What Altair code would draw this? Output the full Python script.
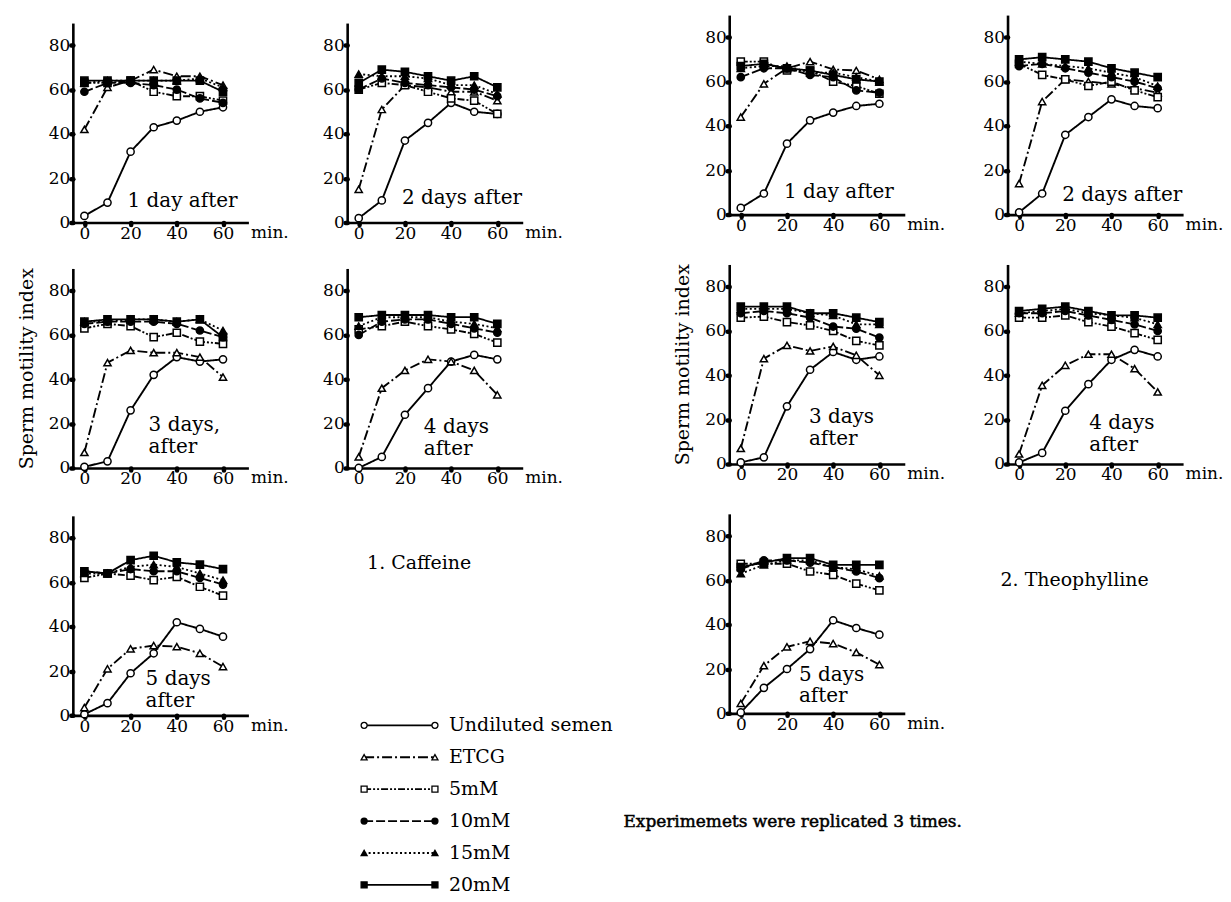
import altair as alt
import pandas as pd

FONT = "DejaVu Serif"
TIMES = [0, 10, 20, 30, 40, 50, 60]
SERIES = ["Undiluted semen", "ETCG", "5mM", "10mM", "15mM", "20mM"]
LEGEND_LABELS = ["Undiluted  semen", "ETCG", "\u00a0\u00a05mM", "10mM", "15mM", "20mM"]
Y_TICKS = [0, 20, 40, 60, 80]

# ---- 1. Caffeine ----
caf_1day = {
    "Undiluted semen": [3, 9, 32, 43, 46, 50, 52],
    "ETCG": [42, 61, 64, 69, 66, 66, 62],
    "5mM": [63, 63, 64, 59, 57, 57, 55],
    "10mM": [59, 63, 63, 62, 60, 56, 54],
    "15mM": [63, 64, 64, 64, 64, 65, 61],
    "20mM": [64, 64, 64, 64, 64, 64, 59],
}
caf_2day = {
    "Undiluted semen": [2, 10, 37, 45, 54, 50, 49],
    "ETCG": [15, 51, 62, 61, 59, 59, 55],
    "5mM": [60, 63, 62, 59, 56, 55, 49],
    "10mM": [60, 65, 63, 62, 61, 60, 57],
    "15mM": [67, 66, 66, 65, 62, 62, 58],
    "20mM": [63, 69, 68, 66, 64, 66, 61],
}
caf_3day = {
    "Undiluted semen": [0.5, 3, 26, 42, 50, 48, 49],
    "ETCG": [7, 47.5, 53, 52, 52, 50, 41],
    "5mM": [63, 65, 64, 59, 61, 57, 56],
    "10mM": [65, 66, 66, 66, 65, 62, 59],
    "15mM": [66, 66, 67, 67, 66, 67, 62],
    "20mM": [66, 67, 67, 67, 66, 67, 59],
}
caf_4day = {
    "Undiluted semen": [0, 5, 24, 36, 48, 51, 49],
    "ETCG": [5, 36, 44, 49, 48, 44, 33],
    "5mM": [62.5, 64, 66, 64, 62.5, 60.5, 56.5],
    "10mM": [60, 66, 67, 67, 65, 63, 61],
    "15mM": [64, 68, 68, 68, 66, 65, 63],
    "20mM": [68, 69, 69, 69, 68, 68, 65],
}
caf_5day = {
    "Undiluted semen": [0.5, 5.5, 19, 28, 42, 39, 35.5],
    "ETCG": [3.5, 21, 30, 31.5, 31, 28, 22],
    "5mM": [62, 64, 63, 61, 62.5, 58, 54],
    "10mM": [65, 64, 66, 65, 65, 62, 59],
    "15mM": [64, 64, 67, 68, 67, 64, 61],
    "20mM": [65, 64, 70, 72, 69, 68, 66],
}

# ---- 2. Theophylline ----
theo_1day = {
    "Undiluted semen": [3, 9.5, 32, 42.5, 46, 49, 50],
    "ETCG": [44, 59, 66, 69, 65.5, 65, 61],
    "5mM": [69, 69, 65, 65, 60, 58, 54.5],
    "10mM": [62, 66, 66, 63, 62, 56, 55],
    "15mM": [66, 67, 67, 64, 64, 62, 60],
    "20mM": [67, 68, 66, 65, 63, 61, 60],
}
theo_2day = {
    "Undiluted semen": [1, 9.5, 36, 44, 52, 49, 48],
    "ETCG": [14, 51, 61, 60, 59, 57, 55],
    "5mM": [68, 63, 61, 58, 60, 56, 53],
    "10mM": [67, 68, 66, 64, 62, 60, 57],
    "15mM": [69, 68, 67, 66, 64, 62, 58],
    "20mM": [70, 71, 70, 69, 66, 64, 62],
}
theo_3day = {
    "Undiluted semen": [0.7, 3, 26, 42.5, 50.5, 47, 48.5],
    "ETCG": [7, 47.5, 53.5, 51, 53, 49, 40],
    "5mM": [66, 66.5, 64, 62.5, 60, 55.5, 53.5],
    "10mM": [68, 69, 68, 66, 62, 61, 57],
    "15mM": [70, 70, 70, 68, 67, 63, 63],
    "20mM": [71, 71, 71, 68, 68, 66, 64],
}
theo_4day = {
    "Undiluted semen": [0.7, 5, 24, 36, 47, 51.5, 48.5],
    "ETCG": [4.5, 35.5, 44.5, 49.5, 49.5, 43, 32.5],
    "5mM": [66, 66, 67, 64, 62, 59, 56],
    "10mM": [68, 68, 69, 67, 65, 63, 60],
    "15mM": [68, 69, 70, 68, 67, 66, 63],
    "20mM": [69, 70, 71, 69, 67, 67, 66],
}
theo_5day = {
    "Undiluted semen": [0.4, 11.5, 20, 29, 42, 38.5, 35.5],
    "ETCG": [4.5, 21.5, 30, 32.5, 31.5, 27.5, 22],
    "5mM": [67.5, 67.5, 67.5, 64, 62.5, 58.5, 55.5],
    "10mM": [65, 69, 69, 68, 66, 64, 61],
    "15mM": [63, 67, 69, 69, 66, 65, 62],
    "20mM": [66, 68, 70, 70, 67, 67, 67],
}

SHAPES = ["circle", "triangle-up", "square", "circle", "triangle-up", "square"]
FILLS = ["white", "white", "white", "black", "black", "black"]
DASHES = [[1, 0], [10, 3, 2, 3], [7, 2, 2, 2, 2, 2], [9, 3], [2, 2.5], [1, 0]]
WIDTHS = [1.9, 1.8, 1.7, 2.0, 1.8, 3.4]

PW, PH = 176, 200

# grid layout (flat, flush bounds)
COL_W = [62, 176, 99, 176, 207, 176, 103, 176]
ROW_H = [3, 208, 42, 204, 46, 202, 180]


def dash_enc():
    return alt.StrokeDash("s:N", scale=alt.Scale(domain=SERIES, range=DASHES), legend=None)


def width_enc():
    return alt.StrokeWidth("s:N", scale=alt.Scale(domain=SERIES, range=WIDTHS), legend=None)


def shape_enc():
    return alt.Shape("s:N", scale=alt.Scale(domain=SERIES, range=SHAPES), legend=None)


def fill_enc():
    return alt.Fill("s:N", scale=alt.Scale(domain=SERIES, range=FILLS), legend=None)


X_AXIS = alt.Axis(
    values=TIMES,
    labelExpr="datum.value % 20 == 0 ? datum.label : ''",
    labelOverlap=False,
    labelFlush=False,
    title="min.",
    titleX=178,
    titleY=2,
    titleAlign="left",
    titleBaseline="top",
    titleAngle=0,
    titleFont=FONT,
    titleFontSize=17,
    titleFontWeight="normal",
    titleColor="black",
    labelFont=FONT,
    labelFontSize=17,
    labelColor="black",
    labelPadding=1,
    domainColor="black",
    domainWidth=2.6,
    tickColor="black",
    tickWidth=4.5,
    tickSize=2,
    tickCap="round",
    grid=False,
)


def y_axis(title):
    return alt.Axis(
        values=Y_TICKS,
        title=title,
        titleFont=FONT,
        titleFontSize=19,
        titleFontWeight="normal",
        titleColor="black",
        titlePadding=12,
        labelFont=FONT,
        labelFontSize=17,
        labelColor="black",
        labelPadding=1,
        labelOverlap=False,
        labelFlush=False,
        domainColor="black",
        domainWidth=2.6,
        tickColor="black",
        tickWidth=4.5,
        tickSize=2,
        tickCap="round",
        grid=False,
    )


def panel(values, caption, cx, cy, ytitle="", off=0):
    h = PH + off
    df = pd.DataFrame(
        [{"t": t, "v": v, "s": s} for s in SERIES for t, v in zip(TIMES, values[s])]
    )
    xenc = alt.X("t:Q", scale=alt.Scale(domain=[-5, 71], nice=False, zero=False), axis=X_AXIS)
    yenc = alt.Y("v:Q", scale=alt.Scale(domain=[0, 90], nice=False, range=[h, off]), axis=y_axis(ytitle))
    base = alt.Chart(df)
    lines = base.mark_line(color="black").encode(
        x=xenc, y=yenc, detail="s:N", order="t:Q",
        strokeDash=dash_enc(), strokeWidth=width_enc(),
    )
    pts = base.mark_point(filled=True, stroke="black", strokeWidth=1.5, opacity=1, size=52).encode(
        x=xenc, y=yenc, shape=shape_enc(), fill=fill_enc()
    )
    cap = alt.Chart(pd.DataFrame({"z": [0]})).mark_text(
        font=FONT, fontSize=20, align="left", baseline="middle",
        lineBreak="\n", lineHeight=22, color="black",
    ).encode(x=alt.datum(cx), y=alt.datum(cy), text=alt.value(caption))
    return alt.layer(lines, pts, cap).properties(width=PW, height=h)


def sp(w, h):
    return alt.Chart(pd.DataFrame({"z": [0]})).mark_point(opacity=0).encode(
        x=alt.value(0), y=alt.value(0)
    ).properties(width=w, height=h)


def label_view(text, tx, ty, size, w, h, stroke_w=0.0):
    return alt.Chart(pd.DataFrame({"z": [0]})).mark_text(
        font=FONT, fontSize=size, align="left", baseline="middle", color="black",
        stroke="black", strokeWidth=stroke_w,
    ).encode(x=alt.value(tx), y=alt.value(ty), text=alt.value(text)).properties(width=w, height=h)


# captions: y is the centre of the first line (data units)
C1 = panel(caf_1day, "1 day after", 18.7, 9.5, off=8)
C2 = panel(caf_2day, "2 days after", 18.7, 11, off=8)
C3 = panel(caf_3day, "3 days,\nafter", 27.8, 19.5, "Sperm motility index", off=4)
C4 = panel(caf_4day, "4 days\nafter", 28.2, 18.5, off=4)
C5 = panel(caf_5day, "5 days\nafter", 26.5, 16.5, off=2)

T1 = panel(theo_1day, "1 day after", 18.7, 10)
T2 = panel(theo_2day, "2 days after", 18.7, 9)
T3 = panel(theo_3day, "3 days\nafter", 29.5, 21, "Sperm motility index")
T4 = panel(theo_4day, "4 days\nafter", 30.4, 18.5)
T5 = panel(theo_5day, "5 days\nafter", 25.2, 17.5)

cap_caf = label_view("1. Caffeine", 20, 49, 19, 176, 202)
cap_theo = label_view("2. Theophylline", -7, 66, 19, 176, 200)

# ---- legend ----
leg_df = pd.DataFrame(
    [{"s": s, "i": i, "p": p} for i, s in enumerate(SERIES) for p in (0, 1)]
)
lab_df = pd.DataFrame({"s": SERIES, "i": list(range(len(SERIES))), "lab": LEGEND_LABELS})
lx = alt.X("p:Q", scale=alt.Scale(domain=[0, 1], range=[17, 88]), axis=None)
ly = alt.Y("i:Q", scale=alt.Scale(domain=[0, 5], range=[10, 170]), axis=None)
leg_lines = alt.Chart(leg_df).mark_line(color="black").encode(
    x=lx, y=ly, detail="s:N", strokeDash=dash_enc(), strokeWidth=width_enc()
)
leg_pts = alt.Chart(leg_df).mark_point(filled=True, stroke="black", strokeWidth=1.3, opacity=1, size=36).encode(
    x=lx, y=ly, shape=shape_enc(), fill=fill_enc()
)
leg_text = alt.Chart(lab_df).mark_text(
    font=FONT, fontSize=19, align="left", baseline="middle", dx=14, color="black"
).encode(x=alt.datum(1), y=ly, text="lab:N")
legend = alt.layer(leg_lines, leg_pts, leg_text).properties(width=176, height=180)

note = label_view("Experimemets were replicated 3 times.", 101, 107, 17, 207, 180, 0.5)

cells = [
    [sp(COL_W[c], ROW_H[0]) for c in range(8)],
    [sp(62, 208), C1, sp(99, 208), C2, sp(207, 208), T1, sp(103, 208), T2],
    [sp(COL_W[c], ROW_H[2]) for c in range(8)],
    [sp(62, 204), C3, sp(99, 204), C4, sp(207, 204), T3, sp(103, 204), T4],
    [sp(COL_W[c], ROW_H[4]) for c in range(8)],
    [sp(62, 202), C5, sp(99, 202), cap_caf, sp(207, 202), T5, sp(103, 202), cap_theo],
    [sp(62, 180), sp(176, 180), sp(99, 180), legend, note, sp(176, 180), sp(103, 180), sp(176, 180)],
]
flat = [c for r in cells for c in r]

chart = (
    alt.concat(*flat, columns=8, spacing=0, bounds="flush")
    .properties(padding=0)
    .configure(font=FONT)
    .configure_view(stroke=None)
)

chart.save("out.html", embed_options={"renderer": "svg", "actions": False})
